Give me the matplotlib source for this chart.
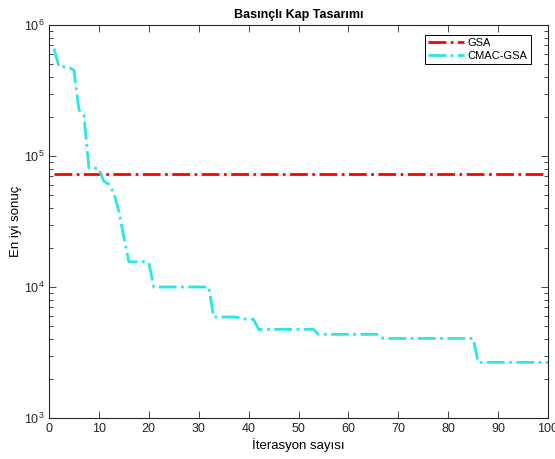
import matplotlib
matplotlib.use("Agg")
import matplotlib.pyplot as plt
import numpy as np

plt.rcParams['font.family'] = ['Liberation Sans', 'DejaVu Sans']
plt.rcParams['mathtext.fontset'] = 'custom'
plt.rcParams['mathtext.rm'] = 'Liberation Sans'
plt.rcParams['mathtext.it'] = 'Liberation Sans'

# iteration numbers and best results
iterations = np.arange(1, 101)
cmac_gsa = [
    6.6e5, 4.8e5, 4.8e5, 4.75e5, 4.5e5, 2.25e5, 2.05e5, 8.1e4, 8.1e4, 8.0e4,
    6.4e4, 6.1e4, 5.2e4, 3.8e4, 2.4e4, 1.56e4, 1.56e4, 1.56e4, 1.56e4, 1.53e4,
    1.0e4, 1.0e4, 1.0e4, 1.0e4, 1.0e4, 1.0e4, 1.0e4, 1.0e4, 1.0e4, 1.0e4,
    1.0e4, 1.0e4, 5.9e3, 5.9e3, 5.9e3, 5.9e3, 5.9e3, 5.85e3, 5.7e3, 5.7e3,
    5.65e3, 4.75e3, 4.75e3, 4.75e3, 4.75e3, 4.75e3, 4.75e3, 4.75e3, 4.75e3, 4.75e3,
    4.75e3, 4.75e3, 4.75e3, 4.35e3, 4.35e3, 4.35e3, 4.35e3, 4.35e3, 4.35e3, 4.35e3,
    4.35e3, 4.35e3, 4.35e3, 4.35e3, 4.35e3, 4.35e3, 4.05e3, 4.05e3, 4.05e3, 4.05e3,
    4.05e3, 4.05e3, 4.05e3, 4.05e3, 4.05e3, 4.05e3, 4.05e3, 4.05e3, 4.05e3, 4.05e3,
    4.05e3, 4.05e3, 4.05e3, 4.05e3, 4.05e3, 2.66e3, 2.66e3, 2.66e3, 2.66e3, 2.66e3,
    2.66e3, 2.66e3, 2.66e3, 2.66e3, 2.66e3, 2.66e3, 2.66e3, 2.66e3, 2.66e3, 2.66e3,
]
gsa_value = 7.3e4
gsa = [gsa_value] * len(iterations)

fig = plt.figure(figsize=(5.55, 4.59), dpi=100)
ax = fig.add_axes([0.0883, 0.0893, 0.8991, 0.8562])

ax.plot(iterations, gsa, color='#ff0000', linestyle='-.', linewidth=2, label='GSA')
ax.plot(iterations, cmac_gsa, color='#2ce6e6', linestyle='-.', linewidth=2, label='CMAC-GSA')

ax.set_yscale('log')
ax.set_xlim(0, 100)
ax.set_ylim(1e3, 1e6)
ax.set_xticks(np.arange(0, 101, 10))

axis_color = '#262626'
for s in ax.spines.values():
    s.set_color(axis_color)
    s.set_linewidth(0.8)
ax.tick_params(which='both', direction='in', top=True, right=True,
               colors=axis_color, labelsize=9, width=0.6)
ax.tick_params(which='major', length=5)
ax.tick_params(which='minor', length=3)

ax.set_title('Basınçlı Kap Tasarımı', fontsize=9, fontweight='bold', pad=5)
ax.set_xlabel('İterasyon sayısı', fontsize=9.5, labelpad=2)
ax.set_ylabel('En iyi sonuç', fontsize=9.5, labelpad=1)

leg = ax.legend(loc='upper right', fontsize=8, fancybox=False, framealpha=1,
                edgecolor='black', borderaxespad=0.9, handlelength=3.2,
                handletextpad=0.3, borderpad=0.3, labelspacing=0.25,
                bbox_to_anchor=(0.985, 1.0))
leg.get_frame().set_linewidth(0.7)

fig.savefig('out.png', dpi=100)
